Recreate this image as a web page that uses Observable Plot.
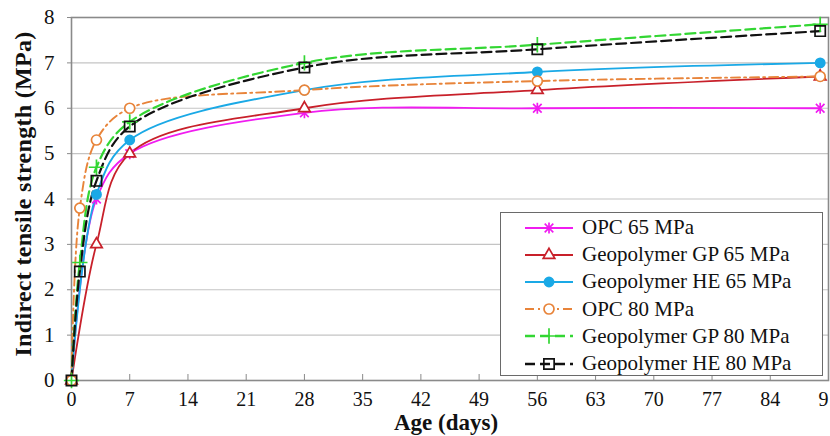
<!DOCTYPE html>
<html><head><meta charset="utf-8">
<script src="https://cdn.jsdelivr.net/npm/d3@7"></script>
<script src="https://cdn.jsdelivr.net/npm/@observablehq/plot@0.6"></script>
<style>
body{margin:0;background:#fff;}
#wrap{position:relative;width:830px;height:436px;overflow:hidden;font-family:"Liberation Serif","Times New Roman",Times,"DejaVu Serif",serif;}
#legend{position:absolute;left:500px;top:212px;width:323px;height:164px;background:#fff;border:1.5px solid #6a6a6a;box-sizing:border-box;}
.row{position:absolute;left:0;height:27px;display:flex;align-items:center;font-size:21px;color:#111;white-space:nowrap;}
.row svg{margin-left:22px;margin-right:7px;flex:none;}
.ylab{position:absolute;left:23px;top:194px;transform:translate(-50%,-50%) rotate(-90deg);font-weight:bold;font-size:24px;letter-spacing:0.3px;white-space:nowrap;color:#111;}
.xlab{position:absolute;left:446px;top:423px;transform:translate(-50%,-50%);font-weight:bold;font-size:23px;white-space:nowrap;color:#111;}
</style></head><body><div id="wrap"></div>
<script>
// ---- data ----
const seriesNames = ["OPC 65 MPa","Geopolymer GP 65 MPa","Geopolymer HE 65 MPa","OPC 80 MPa","Geopolymer GP 80 MPa","Geopolymer HE 80 MPa"];
const days65 = [0,3,7,28,56,90];
const days80 = [0,1,3,7,28,56,90];
const opc65  = [0,4.0,5.0,5.9,6.0,6.0];
const gp65   = [0,3.0,5.0,6.0,6.4,6.7];
const he65   = [0,4.1,5.3,6.4,6.8,7.0];
const opc80  = [0,3.8,5.3,6.0,6.4,6.6,6.7];
const gp80   = [0,2.6,4.7,5.7,7.0,7.4,7.85];
const he80   = [0,2.4,4.4,5.6,6.9,7.3,7.7];
const xTicks = [0,7,14,21,28,35,42,49,56,63,70,77,84,91];
const yTicks = [0,1,2,3,4,5,6,7,8];
const xLabel = "Age (days)";
const yLabel = "Indirect tensile strength (MPa)";

// ---- styles ----
const asterisk = {draw(ctx, size){ const r = Math.sqrt(size/Math.PI); const a = r*0.78;
  ctx.moveTo(-a,-a); ctx.lineTo(a,a); ctx.moveTo(-a,a); ctx.lineTo(a,-a); ctx.moveTo(0,-r); ctx.lineTo(0,r); }};
const styles = [
  {color:"#f01cf0", width:1.8, dash:null, symbol:asterisk, fill:"none", r:5.5},
  {color:"#c8202a", width:1.8, dash:null, symbol:d3.symbolTriangle, fill:"white", r:4.3},
  {color:"#1aa9e6", width:1.9, dash:null, symbol:d3.symbolCircle, fill:"#1aa9e6", r:4.6},
  {color:"#e8843a", width:1.9, dash:"9,4,2,4", symbol:d3.symbolCircle, fill:"white", r:5.0},
  {color:"#33d633", width:2.2, dash:"10,5", symbol:d3.symbolPlus, fill:"none", r:5.0},
  {color:"#111111", width:2.2, dash:"10,5", symbol:d3.symbolSquare, fill:"none", r:5.8}
];
const dayList = [days65,days65,days65,days80,days80,days80];
const valueList = [opc65,gp65,he65,opc80,gp80,he80];

const rows = [];
seriesNames.forEach((s,i)=>dayList[i].forEach((d,j)=>rows.push({series:s, i, day:d, value:valueList[i][j]})));

const font = "'Liberation Serif','Times New Roman',Times,'DejaVu Serif',serif";
const marks = [
  Plot.gridY(yTicks, {stroke:"#c4c4c4", strokeOpacity:1, strokeWidth:1.2}),
  Plot.frame({stroke:"#8a8a8a", strokeWidth:1.6}),
  Plot.axisY(yTicks, {tickSize:4, tickPadding:13, fontSize:21, fontFamily:font, label:null, stroke:"#8a8a8a", fill:"#111"}),
  Plot.axisX(xTicks, {tickSize:0, tickPadding:11, fontSize:20, fontFamily:font, label:null, fill:"#111"}),
  Plot.axisX(xTicks, {tickSize:-6, tickFormat:()=>"", label:null, stroke:"#8a8a8a"})
];
seriesNames.forEach((s,i)=>{
  const st = styles[i];
  marks.push(Plot.line(rows.filter(r=>r.i===i), {x:"day", y:"value", stroke:st.color, strokeWidth:st.width, strokeDasharray:st.dash, curve:"catmull-rom"}));
});
seriesNames.forEach((s,i)=>{
  const st = styles[i];
  marks.push(Plot.dot(rows.filter(r=>r.i===i), {x:"day", y:"value", symbol:st.symbol, r:st.r, stroke:st.color, fill:st.fill, strokeWidth:1.7}));
});

const chart = Plot.plot({
  width:830, height:436,
  marginLeft:71, marginRight:2, marginTop:17, marginBottom:56,
  style:{fontFamily:font, background:"white", overflow:"visible"},
  x:{domain:[0,91]},
  y:{domain:[0,8]},
  marks
});
const wrap = document.getElementById("wrap");
wrap.appendChild(chart);

// axis titles
const yl = document.createElement("div"); yl.className="ylab"; yl.textContent=yLabel; wrap.appendChild(yl);
const xl = document.createElement("div"); xl.className="xlab"; xl.textContent=xLabel; wrap.appendChild(xl);

// legend
const leg = document.createElement("div"); leg.id="legend"; wrap.appendChild(leg);
seriesNames.forEach((s,i)=>{
  const st = styles[i];
  const row = document.createElement("div"); row.className="row"; row.style.top = (1 + i*27.2) + "px";
  const svg = d3.create("svg").attr("width",52).attr("height",20);
  svg.append("line").attr("x1",2).attr("x2",50).attr("y1",10).attr("y2",10)
     .attr("stroke",st.color).attr("stroke-width",st.width+0.3).attr("stroke-dasharray",st.dash);
  const size = Math.PI*st.r*st.r;
  svg.append("path").attr("d", d3.symbol(st.symbol, size)()).attr("transform","translate(26,10)")
     .attr("stroke",st.color).attr("stroke-width",1.7).attr("fill",st.fill);
  row.appendChild(svg.node());
  const t = document.createElement("span"); t.textContent = s; row.appendChild(t);
  leg.appendChild(row);
});
</script></body></html>
